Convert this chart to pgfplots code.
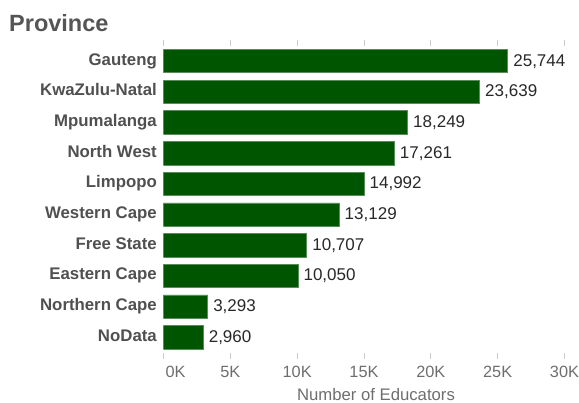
\documentclass[border=0pt]{standalone}
\usepackage{pgfplots}
\pgfplotsset{compat=1.18}
\usepackage{fontspec}
\setmainfont{Liberation Sans}
\definecolor{barfill}{RGB}{0,85,0}
\definecolor{baredge}{RGB}{90,140,90}
\definecolor{titlegray}{RGB}{85,85,85}
\definecolor{labgray}{RGB}{80,80,80}
\definecolor{tickgray}{RGB}{110,110,110}
\definecolor{vallab}{RGB}{40,40,40}
\begin{document}
\begin{tikzpicture}
\useasboundingbox (0,0) rectangle (579pt,-403pt);
\node[anchor=base west, font=\fontsize{23.5}{28}\selectfont\bfseries, text=titlegray, inner sep=0pt] at (9pt,-31.5pt) {Province};
\begin{axis}[
  at={(163.5pt,-352.65pt)}, anchor=south west,
  scale only axis, width=401pt, height=307pt,
  xmin=0, xmax=30000, ymin=-0.5, ymax=9.5, y dir=reverse,
  xbar, bar width=23.4pt,
  axis line style={draw=none},
  tick align=outside,
  ytick={0,...,9},
  yticklabels={Gauteng,KwaZulu-Natal,Mpumalanga,North West,Limpopo,Western Cape,Free State,Eastern Cape,Northern Cape,NoData},
  y tick style={draw=none},
  yticklabel style={font=\fontsize{16.8}{20}\selectfont\bfseries, text=labgray, inner sep=0pt, anchor=base east, xshift=-0.5pt, yshift=-4pt},
  xtick={0,5000,10000,15000,20000,25000,30000},
  xticklabels={\hspace*{24pt}0K,5K,10K,15K,20K,25K,30K},
  scaled x ticks=false,
  x tick style={draw=gray!40, line width=0.8pt},
  major tick length=6pt,
  xticklabel style={font=\fontsize{16.3}{19}\selectfont, text=tickgray, inner sep=0pt, anchor=base, yshift=-19pt},
  point meta=explicit symbolic,
  nodes near coords,
  nodes near coords style={font=\fontsize{17}{20}\selectfont, text=vallab, inner sep=0pt, anchor=base west, xshift=5.5pt, yshift=-5pt},
]
\addplot[fill=barfill, draw=baredge, line width=0.5pt] table[x=v, y=i, meta=lab] {
i v lab
0 25744 25,744
1 23639 23,639
2 18249 18,249
3 17261 17,261
4 14992 14,992
5 13129 13,129
6 10707 10,707
7 10050 10,050
8 3293 3,293
9 2960 2,960
};
\end{axis}
\node[anchor=base, font=\fontsize{16.7}{20}\selectfont, text=tickgray, inner sep=0pt] at (376pt,-400.5pt) {Number of Educators};
\end{tikzpicture}
\end{document}
